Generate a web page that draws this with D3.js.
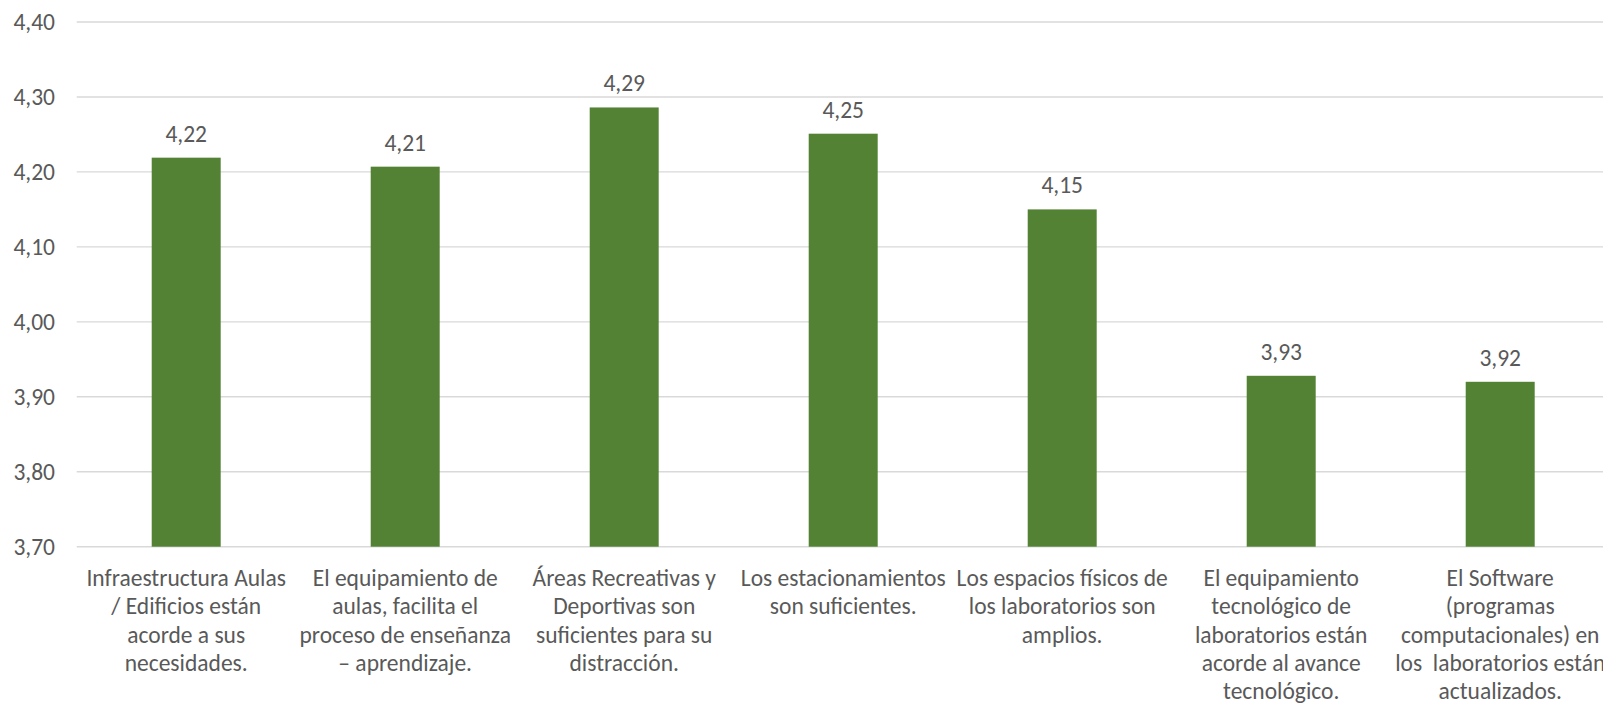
<!DOCTYPE html>
<html>
<head>
<meta charset="utf-8">
<script src="https://cdn.jsdelivr.net/npm/d3@7/dist/d3.min.js"></script>
<style>
  html, body { margin: 0; padding: 0; background: #fff; overflow: hidden; }
  svg { display: block; }
  text { font-family: Carlito, Calibri, Lato, "Noto Sans", sans-serif; fill: #595959; }
</style>
</head>
<body>
<svg id="chart" width="1603" height="706"></svg>
<script>
const categories = [
  "Infraestructura Aulas\n/ Edificios están\nacorde a sus\nnecesidades.",
  "El equipamiento de\naulas, facilita el\nproceso de enseñanza\n– aprendizaje.",
  "Áreas Recreativas y\nDeportivas son\nsuficientes para su\ndistracción.",
  "Los estacionamientos\nson suficientes.",
  "Los espacios físicos de\nlos laboratorios son\namplios.",
  "El equipamiento\ntecnológico de\nlaboratorios están\nacorde al avance\ntecnológico.",
  "El Software\n(programas\ncomputacionales) en\nlos  laboratorios están\nactualizados."
];
const values = [4.219, 4.207, 4.286, 4.251, 4.150, 3.928, 3.920];
const yTicks = [3.70, 3.80, 3.90, 4.00, 4.10, 4.20, 4.30, 4.40];

const svg = d3.select("#chart");
const plotLeft = 76.7, plotTop = 22, plotBottom = 546.7, step = 219;
const fmt = v => d3.format(".2f")(v).replace(".", ",");

const x = d3.scaleBand()
  .domain(d3.range(categories.length))
  .range([plotLeft, plotLeft + step * categories.length])
  .paddingInner(0.685)
  .paddingOuter(0.3425);
const y = d3.scaleLinear().domain([3.7, 4.4]).range([plotBottom, plotTop]);

// gridlines
svg.append("g").selectAll("line").data(yTicks).join("line")
  .attr("x1", plotLeft).attr("x2", 1603 + 20)
  .attr("y1", d => y(d)).attr("y2", d => y(d))
  .attr("stroke", "#d9d9d9").attr("stroke-width", 1.4);

// y axis labels
const yAxis = d3.axisLeft(y).tickValues(yTicks).tickFormat(fmt).tickSize(0).tickPadding(0);
const ya = svg.append("g").attr("transform", "translate(55,0)").call(yAxis);
ya.select(".domain").remove();
ya.selectAll("text").attr("font-size", 23.5).style("fill", "#595959")
  .attr("font-family", "Carlito, Calibri, Lato, sans-serif");

// bars
svg.append("g").selectAll("rect").data(values).join("rect")
  .attr("x", (d, i) => x(i)).attr("width", x.bandwidth())
  .attr("y", d => y(d)).attr("height", d => y(3.7) - y(d))
  .attr("fill", "#548235");

// value labels
svg.append("g").selectAll("text").data(values).join("text")
  .attr("x", (d, i) => x(i) + x.bandwidth() / 2)
  .attr("y", d => y(d) - 16)
  .attr("text-anchor", "middle")
  .attr("font-size", 23.5)
  .text(d => fmt(d));

// category labels
const cat = svg.append("g").selectAll("text").data(categories).join("text")
  .attr("text-anchor", "middle")
  .attr("font-size", 23.5)
  .attr("transform", (d, i) => `translate(${x(i) + x.bandwidth() / 2},586)`);
cat.selectAll("tspan").data(d => d.split("\n")).join("tspan")
  .attr("x", 0).attr("y", (d, j) => j * 28.3)
  .attr("xml:space", "preserve")
  .style("white-space", "pre")
  .text(d => d);
</script>
</body>
</html>
